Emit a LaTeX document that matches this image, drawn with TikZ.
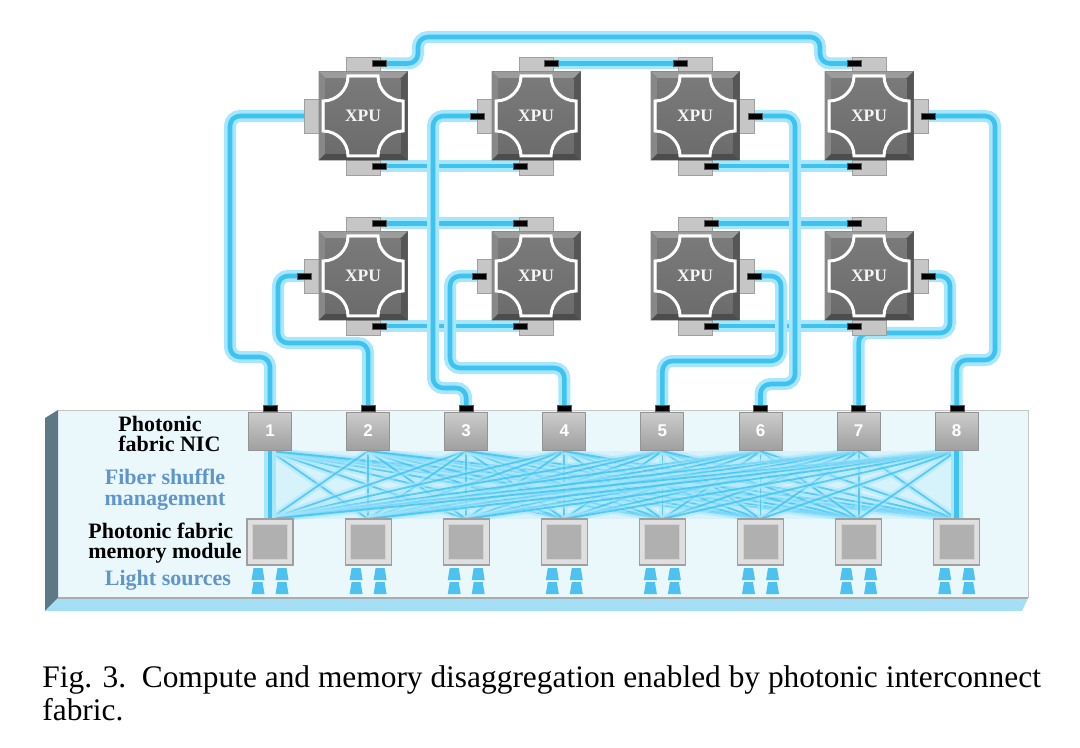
\documentclass[tikz,border=0pt]{standalone}
\usepackage{fontspec}
\setmainfont{Liberation Serif}
\newfontfamily\numfont{Liberation Sans}
\usetikzlibrary{positioning}

\definecolor{fibercore}{HTML}{3CC3F2}
\definecolor{fiberglow}{HTML}{A8E6FB}
\definecolor{labelblue}{HTML}{5F95CB}
\definecolor{deckface}{HTML}{EAF8FC}
\definecolor{deckside}{HTML}{5E7886}
\definecolor{deckfront}{HTML}{A4DFF6}
\definecolor{chipface}{HTML}{6C6C6C}
\definecolor{chiptop}{HTML}{9C9C9C}
\definecolor{chipleft}{HTML}{888888}
\definecolor{chipright}{HTML}{565656}
\definecolor{chipbottom}{HTML}{4C4C4C}
\definecolor{chipinner}{HTML}{7A7A7A}
\definecolor{tabfill}{HTML}{C6C6C6}
\definecolor{lightsrc}{HTML}{4DC2F0}

\tikzset{
  fiber/.style={draw=fibercore, line width=2.3pt, rounded corners=5pt,
    preaction={draw=fiberglow, line width=6pt, rounded corners=5pt}},
  shuffle/.style={draw=fibercore, line width=0.9pt, opacity=0.8,
    preaction={draw=fiberglow, line width=3.4pt, opacity=0.5}},
  plug/.style={fill=black, draw=gray!70!black, line width=0.2pt,
    minimum width=7pt, minimum height=2.8pt, inner sep=0pt},
  tab/.style={fill=tabfill, draw=gray!75, line width=0.3pt},
  nic/.style={draw=gray!85, line width=0.5pt, top color=gray!40, bottom color=gray!75,
    minimum width=21.5pt, minimum height=19pt, inner sep=0pt, text=white,
    font=\numfont\bfseries\fontsize{8.5}{9}\selectfont},
  mem/.style={draw=gray!75, line width=0.6pt, fill=gray!25,
    minimum size=23pt, inner sep=0pt},
  xpu/.style={text=gray!8, font=\bfseries\fontsize{8.75}{9}\selectfont,
    minimum size=44.5pt, inner sep=0pt},
  lbl/.style={font=\bfseries\fontsize{11}{11}\selectfont, inner sep=0pt},
}

\begin{document}
\begin{tikzpicture}[x=0.5pt,y=-0.5pt]
\useasboundingbox (0,0) rectangle (1080,748);

% Deck of the fabric
\fill[deckface] (58,410) rectangle (1028,598);
\draw[gray!45, line width=0.4pt] (58,410) -- (1028,410) -- (1028,598);
\fill[deckside] (45,418) -- (58,410) -- (58,598) -- (45,611) -- cycle;
\fill[deckfront] (45,611) -- (58,598) -- (1028,598) -- (1022,611) -- cycle;
\draw[gray!65, line width=0.6pt] (58,598) -- (1028,598);

% NIC and memory anchor points
\foreach \i in {1,...,8} {
  \pgfmathsetmacro\px{270+98.1*(\i-1)}
  \coordinate (nt\i) at (\px,408);   % NIC plug
  \coordinate (nb\i) at (\px,451);   % NIC bottom
  \coordinate (mt\i) at (\px,519);   % memory top
}

% Fiber shuffle
\fill[fiberglow, opacity=0.3] (nb1) -- (nb8) -- (mt8) -- (mt1) -- cycle;
\foreach \i in {1,...,8}
  \foreach \j in {1,...,8}
    \draw[shuffle] (nb\i) -- (mt\j);
\draw[fiber] (nb1) -- (mt1);
\draw[fiber] (nb8) -- (mt8);

% XPU plug points
\coordinate (x1t) at (379,63.5);  \coordinate (x1b) at (379,166); \coordinate (x1w) at (304,116);
\coordinate (x2t) at (551,63.5);  \coordinate (x2b) at (520,166); \coordinate (x2w) at (477,116);
\coordinate (x3t) at (680,63.5);  \coordinate (x3b) at (711,166); \coordinate (x3e) at (755,116);
\coordinate (x4t) at (854,63.5);  \coordinate (x4b) at (854,166); \coordinate (x4e) at (928,116);
\coordinate (x5t) at (379,223.5); \coordinate (x5b) at (379,326); \coordinate (x5w) at (304,276);
\coordinate (x6t) at (520,223.5); \coordinate (x6b) at (520,326); \coordinate (x6w) at (479,276);
\coordinate (x7t) at (711,223.5); \coordinate (x7b) at (711,326); \coordinate (x7e) at (754,276);
\coordinate (x8t) at (854,223.5); \coordinate (x8b) at (854,326); \coordinate (x8e) at (928,276);

% Fibers between XPUs
\draw[fiber] (x1t) -| (418,37) -| (820,63.5) -- (x4t);
\draw[fiber] (x2t) -- (x3t);
\draw[fiber] (x1b) -- (x2b);
\draw[fiber] (x3b) -- (x4b);
\draw[fiber] (x5t) -- (x6t);
\draw[fiber] (x7t) -- (x8t);
\draw[fiber] (x5b) -- (x6b);
\draw[fiber] (x7b) -- (x8b);

% Fibers down to the NICs
\draw[fiber] (x1w) -| (230,357) -| (nt1);
\draw[fiber] (x5w) -| (278,343) -| (nt2);
\draw[fiber] (x2w) -| (433,388) -| (nt3);
\draw[fiber] (x6w) -| (450,368) -| (nt4);
\draw[fiber] (x7e) -| (781,361) -| (nt5);
\draw[fiber] (x3e) -| (795,384) -| (nt6);
\draw[fiber] (x8e) -| (950,333) -| (nt7);
\draw[fiber] (x4e) -| (995,360) -| (nt8);

% XPU chips
\foreach \n/\cx/\cy/\sd in {1/363/116/-1, 2/536/116/-1, 3/695/116/1, 4/869/116/1,
                            5/363/276/-1, 6/536/276/-1, 7/695/276/1, 8/869/276/1} {
  \filldraw[tab] (\cx-17,\cy-59) rectangle (\cx+17,\cy-44);
  \filldraw[tab] (\cx-17,\cy+44) rectangle (\cx+17,\cy+59);
  \filldraw[tab] (\cx+\sd*44,\cy-17) rectangle (\cx+\sd*59,\cy+17);
  \fill[chipface] (\cx-44.5,\cy-44.5) rectangle (\cx+44.5,\cy+44.5);
  \fill[chiptop] (\cx-44.5,\cy-44.5) -- (\cx+44.5,\cy-44.5) -- (\cx+37.5,\cy-37.5) -- (\cx-37.5,\cy-37.5) -- cycle;
  \fill[chipleft] (\cx-44.5,\cy-44.5) -- (\cx-37.5,\cy-37.5) -- (\cx-37.5,\cy+37.5) -- (\cx-44.5,\cy+44.5) -- cycle;
  \fill[chipright] (\cx+44.5,\cy-44.5) -- (\cx+37.5,\cy-37.5) -- (\cx+37.5,\cy+37.5) -- (\cx+44.5,\cy+44.5) -- cycle;
  \fill[chipbottom] (\cx-44.5,\cy+44.5) -- (\cx-37.5,\cy+37.5) -- (\cx+37.5,\cy+37.5) -- (\cx+44.5,\cy+44.5) -- cycle;
  \fill[top color=chipinner, bottom color=chipface] (\cx-37.5,\cy-37.5) rectangle (\cx+37.5,\cy+37.5);
  \draw[white, line width=1.5pt, line join=miter]
    (\cx-15,\cy-40) -- (\cx+15,\cy-40)
    .. controls (\cx+15,\cy-26.2) and (\cx+26.2,\cy-15) .. (\cx+40,\cy-15)
    -- (\cx+40,\cy+15)
    .. controls (\cx+26.2,\cy+15) and (\cx+15,\cy+26.2) .. (\cx+15,\cy+40)
    -- (\cx-15,\cy+40)
    .. controls (\cx-15,\cy+26.2) and (\cx-26.2,\cy+15) .. (\cx-40,\cy+15)
    -- (\cx-40,\cy-15)
    .. controls (\cx-26.2,\cy-15) and (\cx-15,\cy-26.2) .. (\cx-15,\cy-40) -- cycle;
  \node[xpu] (x\n) at (\cx,\cy) {XPU};
}

% Plugs on the XPUs
\foreach \p in {x1t,x1b,x2t,x2b,x2w,x3t,x3b,x3e,x4t,x4b,x4e,
                x5t,x5b,x5w,x6t,x6b,x6w,x7t,x7b,x7e,x8t,x8b,x8e}
  \node[plug] (p-\p) at (\p) {};

% NICs, memory modules and light sources
\foreach \i in {1,...,8} {
  \pgfmathsetmacro\px{270+98.1*(\i-1)}
  \node[nic] (nic\i) at (\px,431) {\i};
  \node[plug] (np\i) at (nt\i) {};
  \node[mem] (mem\i) at (\px,542) {};
  \filldraw[fill=gray!62, draw=gray!35, line width=0.5pt] (\px-17.5,524.5) rectangle (\px+17.5,559.5);
  \foreach \dx in {-12,12}
    \foreach \ly in {568,582}
      \fill[lightsrc] (\px+\dx-4.5,\ly) -- (\px+\dx+4.5,\ly) -- (\px+\dx+6.5,\ly+12) -- (\px+\dx-6.5,\ly+12) -- cycle;
}

% Labels
\node[lbl, anchor=base west] (t-nic-a) at (118,431) {Photonic};
\node[lbl, anchor=base west] (t-nic-b) at (118,451) {fabric NIC};
\node[lbl, anchor=base, text=labelblue] (t-shuf-a) at (165,484) {Fiber shuffle};
\node[lbl, anchor=base, text=labelblue] (t-shuf-b) at (165,505) {management};
\node[lbl, anchor=base west] (t-mem-a) at (88,538) {Photonic fabric};
\node[lbl, anchor=base west] (t-mem-b) at (88,558) {memory module};
\node[lbl, anchor=base, text=labelblue] (t-light) at (168,585) {Light sources};

% Caption
\node[anchor=base west, inner sep=0pt, font=\fontsize{15.7}{17}\selectfont] (cap-a) at (42,687)
  {Fig. 3.\ \ Compute and memory disaggregation enabled by photonic interconnect};
\node[anchor=base west, inner sep=0pt, font=\fontsize{15.7}{17}\selectfont] (cap-b) at (42,720) {fabric.};

\end{tikzpicture}
\end{document}
